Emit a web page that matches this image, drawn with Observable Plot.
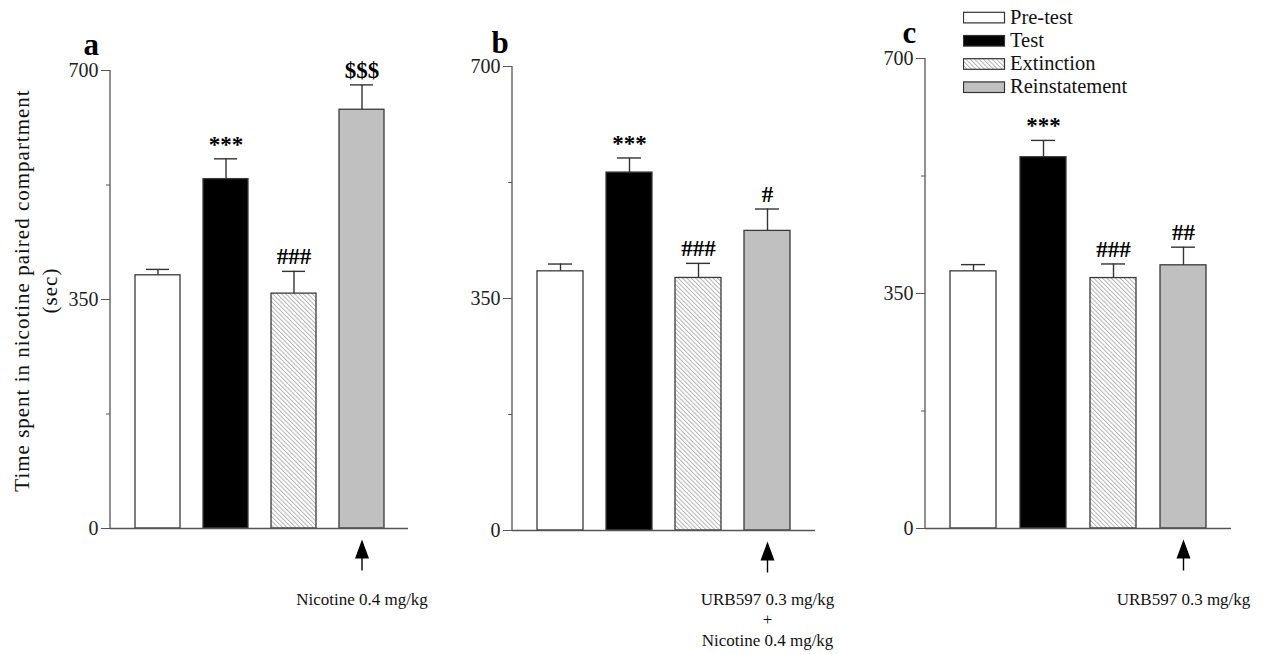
<!DOCTYPE html>
<html><head><meta charset="utf-8">
<script src="https://cdn.jsdelivr.net/npm/d3@7"></script>
<script src="https://cdn.jsdelivr.net/npm/@observablehq/plot@0.6"></script>
<style>
body{margin:0;background:#fff;}
#root{position:relative;width:1272px;height:654px;overflow:hidden;font-family:"Liberation Serif","Times New Roman",serif;background:#fff;}
.panel{position:absolute;top:0;}
</style></head><body><div id="root"></div>
<script>
// ---- data ----
const phases = ["Pre-test", "Test", "Extinction", "Reinstatement"];
const panelLetters = ["a", "b", "c"];
const meanA = [387, 534, 359, 640];
const semA = [9, 31, 34, 38];
const sigA = ["", "***", "###", "$$$"];
const meanB = [391, 540, 381, 452];
const semB = [11, 22, 22, 33];
const sigB = ["", "***", "###", "#"];
const meanC = [383, 553, 373, 392];
const semC = [10, 25, 21, 27];
const sigC = ["", "***", "###", "##"];
const treatA = "Nicotine 0.4 mg/kg";
const treatB = "URB597 0.3 mg/kg\n+\nNicotine 0.4 mg/kg";
const treatC = "URB597 0.3 mg/kg";
const yTicks = [0, 350, 700];
const yMinorTicks = [175, 525];
const yLabel = "Time spent in nicotine paired compartment";
const yUnit = "(sec)";
const phaseFills = ["#ffffff", "#000000", "url(#hatch)", "#c0c0c0"];

const FONT = "Liberation Serif, Times New Roman, serif";
const root = document.getElementById("root");

// shared hatch pattern
const defsSvg = d3.select(root).append("svg").attr("width", 0).attr("height", 0)
  .style("position", "absolute").style("left", 0).style("top", 0);
const pat = defsSvg.append("defs").append("pattern").attr("id", "hatch")
  .attr("patternUnits", "userSpaceOnUse").attr("width", 3.1).attr("height", 3.1)
  .attr("patternTransform", "rotate(-45)");
pat.append("rect").attr("width", 3.1).attr("height", 3.1).attr("fill", "#fff");
pat.append("line").attr("x1", 0.5).attr("y1", 0).attr("x2", 0.5).attr("y2", 3.1)
  .attr("stroke", "#a8a8a8").attr("stroke-width", 0.85);

// arrow symbol (filled head + thin shaft)
const arrowSymbol = {
  draw(ctx) {
    ctx.moveTo(0, 0);
    ctx.lineTo(7, 19);
    ctx.lineTo(0.7, 19);
    ctx.lineTo(0.7, 31);
    ctx.lineTo(-0.7, 31);
    ctx.lineTo(-0.7, 19);
    ctx.lineTo(-7, 19);
    ctx.closePath();
  }
};

function panel(cfg) {
  const data = phases.map((p, i) => ({phase: p, mean: cfg.mean[i], sem: cfg.sem[i], sig: cfg.sig[i]}));
  const axisLine = (index, scales, values, dims) => {
    return d3.create("svg:line")
      .attr("x1", dims.marginLeft).attr("x2", dims.marginLeft)
      .attr("y1", scales.y(d3.min(yTicks))).attr("y2", scales.y(d3.max(yTicks)))
      .attr("stroke", "#555").attr("stroke-width", 1.3).node();
  };
  const marks = [
    Plot.barY(data, {x: "phase", y: "mean", fill: "phase", stroke: "#3a3a3a", strokeWidth: 1.3}),
    Plot.ruleX(data, {x: "phase", y1: "mean", y2: d => d.mean + d.sem, stroke: "#333", strokeWidth: 1.4}),
    Plot.tickY(data, {x: "phase", y: d => d.mean + d.sem, stroke: "#333", strokeWidth: 1.4, insetLeft: 11, insetRight: 11}),
    Plot.text(data, {x: "phase", y: d => d.mean + d.sem, text: "sig", dy: -7, lineAnchor: "bottom",
      fontWeight: "bold", fontSize: 23, fill: "#000"}),
    Plot.ruleY([0], {stroke: "#555", strokeWidth: 1.3}),
    axisLine,
    Plot.axisY(yTicks, {tickSize: 9, tickPadding: 3, fontSize: 20, stroke: "#555", fill: "#222", label: null}),
    Plot.axisY(yMinorTicks, {tickSize: 4, tickFormat: () => "", stroke: "#555", label: null}),
    Plot.text([cfg.letter], {text: d => d, frameAnchor: "top-left", textAnchor: "start", lineAnchor: "bottom",
      dx: cfg.letterDx, dy: cfg.letterDy, fontSize: 31, fontWeight: "bold", fill: "#000"}),
    Plot.dot([phases[3]], {x: d => d, frameAnchor: "bottom", dy: 11, symbol: arrowSymbol, fill: "#000", stroke: "none"}),
    Plot.text([phases[3]], {x: d => d, text: () => cfg.treat, frameAnchor: "bottom", lineAnchor: "top",
      textAnchor: "middle", dy: cfg.treatDy, fontSize: 17, lineHeight: 1.2, fill: "#111"})
  ];
  if (cfg.yLabel) {
    marks.push(Plot.text([yLabel], {text: d => d, frameAnchor: "left", textAnchor: "middle", rotate: -90,
      lineAnchor: "bottom", dx: -82, dy: -9, fontSize: 21, fill: "#111"}));
    marks.push(Plot.text([yUnit], {text: d => d, frameAnchor: "left", textAnchor: "middle", rotate: -90,
      lineAnchor: "bottom", dx: -54, dy: -9, fontSize: 21, fill: "#111"}));
  }
  const svg = Plot.plot({
    width: cfg.width, height: 654,
    marginLeft: cfg.ml, marginRight: cfg.mr, marginTop: cfg.mt, marginBottom: cfg.mb,
    style: {fontFamily: FONT, background: "transparent", overflow: "visible"},
    x: {domain: phases, padding: 0.34, axis: null},
    y: {domain: [0, 700], axis: null},
    color: {domain: phases, range: phaseFills},
    marks
  });
  d3.select(svg).selectAll("text").filter(function () { return this.textContent === yLabel || this.textContent === yUnit; })
    .attr("letter-spacing", 1);
  const wrap = document.createElement("div");
  wrap.className = "panel";
  wrap.style.left = cfg.left + "px";
  wrap.appendChild(svg);
  root.appendChild(wrap);
}

panel({letter: panelLetters[0], mean: meanA, sem: semA, sig: sigA, treat: treatA, left: 0, width: 430,
  ml: 110, mr: 22, mt: 70, mb: 126, letterDx: -27, letterDy: -16, treatDy: 62, yLabel: true});
panel({letter: panelLetters[1], mean: meanB, sem: semB, sig: sigB, treat: treatB, left: 430, width: 420,
  ml: 82, mr: 35, mt: 66, mb: 124, letterDx: -21, letterDy: -14, treatDy: 60});
panel({letter: panelLetters[2], mean: meanC, sem: semC, sig: sigC, treat: treatC, left: 850, width: 422,
  ml: 75, mr: 41, mt: 58, mb: 126, letterDx: -23, letterDy: -16, treatDy: 62});

// legend
const lg = d3.select(root).append("svg").attr("width", 200).attr("height", 100)
  .style("position", "absolute").style("left", "963px").style("top", "0px");
phases.forEach((p, i) => {
  const top = 12.3 + i * 23.2;
  lg.append("rect").attr("x", 0.5).attr("y", top).attr("width", 41).attr("height", 10.6)
    .attr("fill", phaseFills[i]).attr("stroke", "#333").attr("stroke-width", 1.2);
  lg.append("text").attr("x", 47).attr("y", top + 11.2).text(p)
    .attr("font-family", FONT).attr("font-size", 20.5).attr("fill", "#111");
});
</script></body></html>
